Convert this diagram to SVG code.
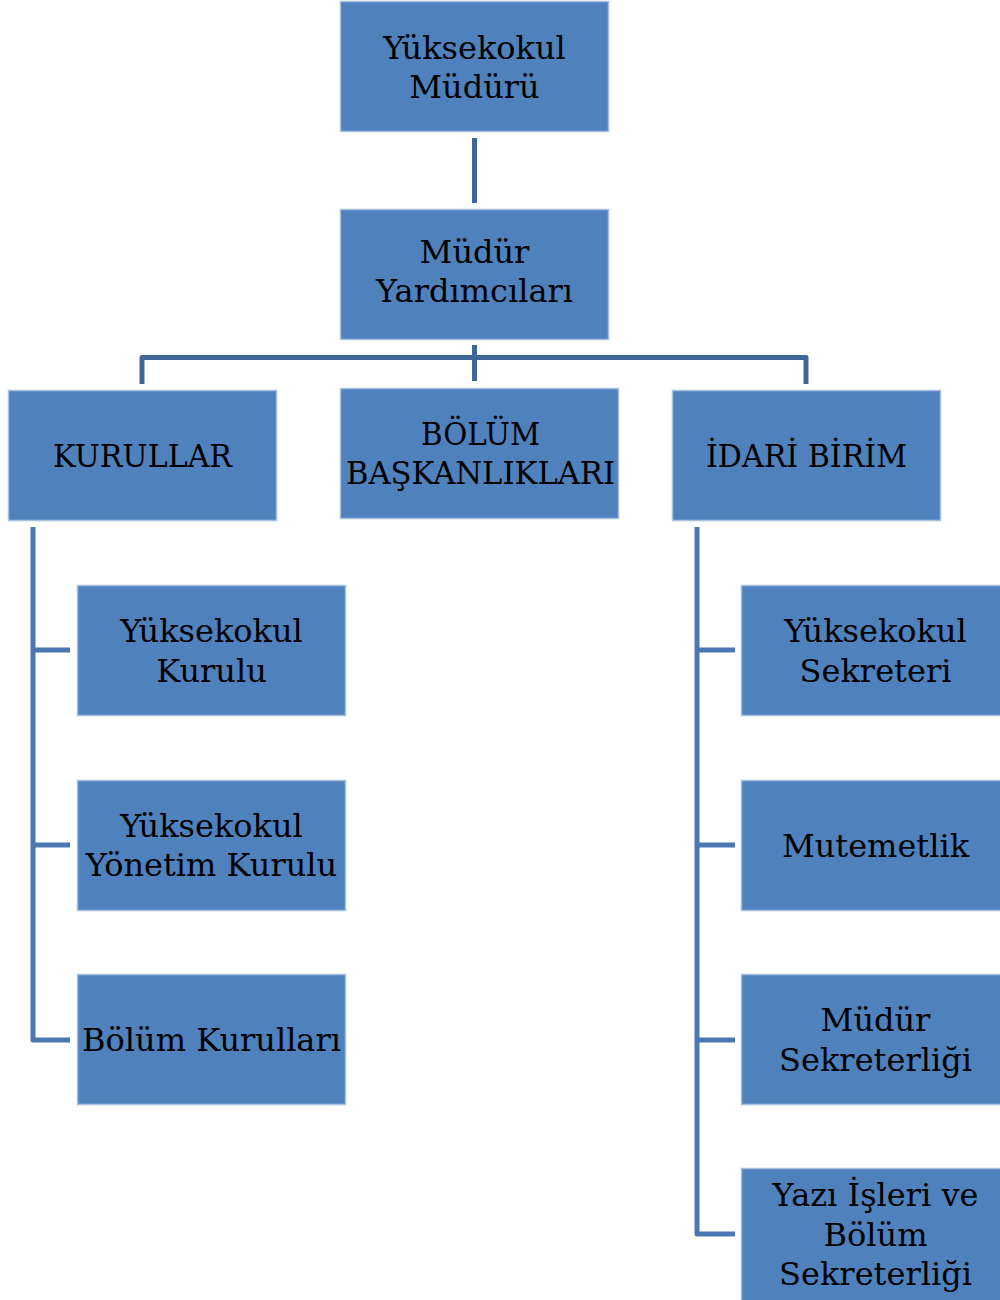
<svg xmlns="http://www.w3.org/2000/svg" width="1000" height="1300" viewBox="0 0 1000 1300">
<style>
.box{fill:#4F81BD;stroke:#A7BFDE;stroke-width:1.5}
.t{font-family:"DejaVu Serif","Liberation Serif",serif;font-size:32px;fill:#000;text-anchor:middle}
.c{fill:none;stroke:#3F6699;stroke-width:5;stroke-linejoin:round}
.s{fill:none;stroke:#4A77B1;stroke-width:5;stroke-linejoin:round}
</style>
<rect width="1000" height="1300" fill="#fff"/>
<g id="connectors">
<line class="c" x1="474.5" y1="138" x2="474.5" y2="203"/>
<polyline class="c" points="142,384 142,357.5 806,357.5 806,384"/>
<line class="c" x1="474.5" y1="345" x2="474.5" y2="381"/>
<polyline class="s" points="33,527 33,1040 70,1040"/>
<line class="s" x1="33" y1="650" x2="70" y2="650"/>
<line class="s" x1="33" y1="845" x2="70" y2="845"/>
<polyline class="s" points="697,527 697,1234 735,1234"/>
<line class="s" x1="697" y1="650" x2="735" y2="650"/>
<line class="s" x1="697" y1="845" x2="735" y2="845"/>
<line class="s" x1="697" y1="1040" x2="735" y2="1040"/>
</g>
<g id="n-mudur"><rect class="box" x="340.5" y="1.5" width="268" height="130"/><text class="t" x="474.5" y="59">Yüksekokul</text><text class="t" x="474.5" y="98">Müdürü</text></g>
<g id="n-yardimci"><rect class="box" x="340.5" y="209.5" width="268" height="130"/><text class="t" x="474.5" y="263">Müdür</text><text class="t" x="474.5" y="302">Yardımcıları</text></g>
<g id="n-kurullar"><rect class="box" x="8.5" y="390.5" width="268" height="130"/><text class="t" x="142.5" y="467" textLength="179" lengthAdjust="spacingAndGlyphs">KURULLAR</text></g>
<g id="n-bolum"><rect class="box" x="340.5" y="388.5" width="278" height="130"/><text class="t" x="480.5" y="445" textLength="119" lengthAdjust="spacingAndGlyphs">BÖLÜM</text><text class="t" x="480.5" y="484" textLength="269" lengthAdjust="spacingAndGlyphs">BAŞKANLIKLARI</text></g>
<g id="n-idari"><rect class="box" x="672.5" y="390.5" width="268" height="130"/><text class="t" x="806.5" y="467" textLength="201" lengthAdjust="spacingAndGlyphs">İDARİ BİRİM</text></g>
<g id="n-yk"><rect class="box" x="77.5" y="585.5" width="268" height="130"/><text class="t" x="211.5" y="642">Yüksekokul</text><text class="t" x="211.5" y="682">Kurulu</text></g>
<g id="n-ykk"><rect class="box" x="77.5" y="780.5" width="268" height="130"/><text class="t" x="211.5" y="837">Yüksekokul</text><text class="t" x="211.5" y="876">Yönetim Kurulu</text></g>
<g id="n-bk"><rect class="box" x="77.5" y="974.5" width="268" height="130"/><text class="t" x="211.5" y="1051">Bölüm Kurulları</text></g>
<g id="n-ys"><rect class="box" x="741.5" y="585.5" width="268" height="130"/><text class="t" x="875.5" y="642">Yüksekokul</text><text class="t" x="875.5" y="682">Sekreteri</text></g>
<g id="n-mut"><rect class="box" x="741.5" y="780.5" width="268" height="130"/><text class="t" x="875.5" y="857">Mutemetlik</text></g>
<g id="n-ms"><rect class="box" x="741.5" y="974.5" width="268" height="130"/><text class="t" x="875.5" y="1031">Müdür</text><text class="t" x="875.5" y="1071">Sekreterliği</text></g>
<g id="n-yi"><rect class="box" x="741.5" y="1168.5" width="268" height="140"/><text class="t" x="875.5" y="1206">Yazı İşleri ve</text><text class="t" x="875.5" y="1246">Bölüm</text><text class="t" x="875.5" y="1285">Sekreterliği</text></g>
</svg>
